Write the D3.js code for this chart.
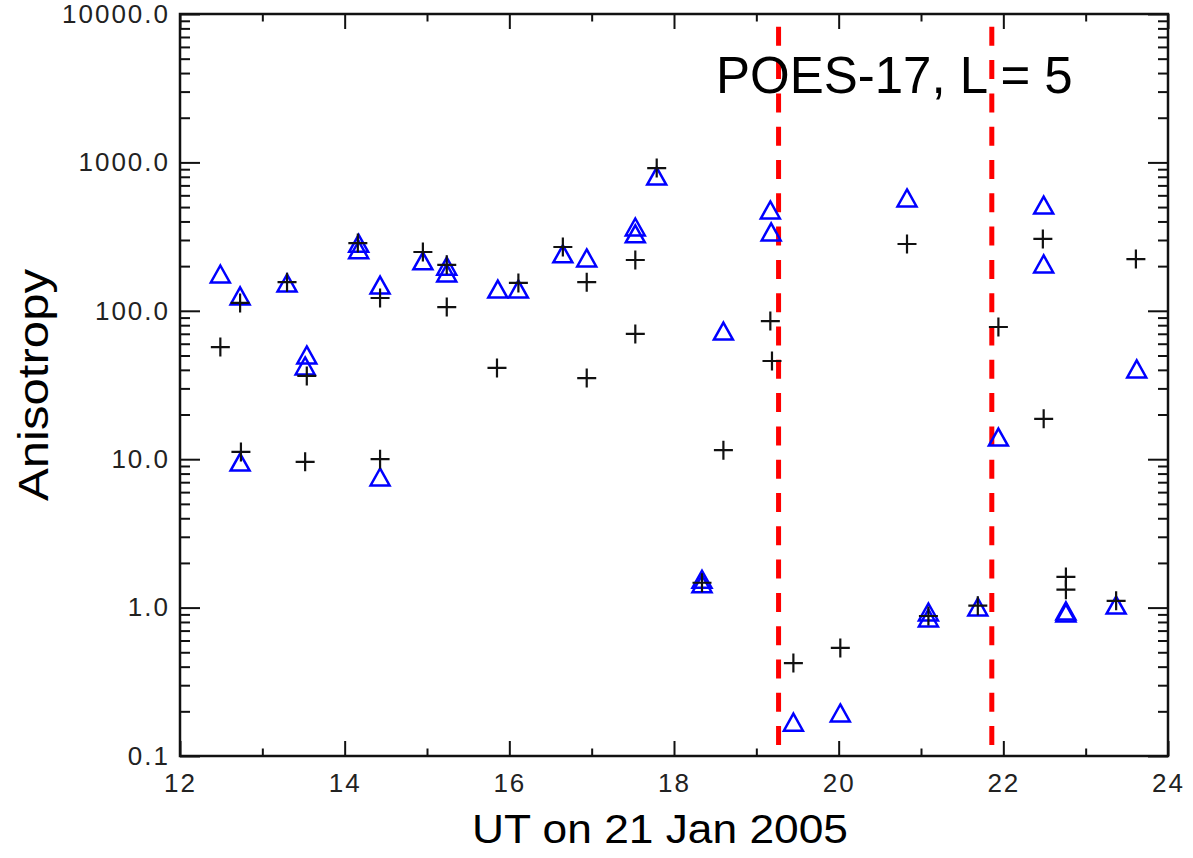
<!DOCTYPE html>
<html>
<head>
<meta charset="utf-8">
<script src="https://cdn.jsdelivr.net/npm/d3@7"></script>
<style>
  body { margin: 0; background: #fff; }
  text { font-family: "Liberation Sans", Arial, sans-serif; }
</style>
</head>
<body>
<div id="chart"></div>
<script>
// blue triangles: [UT hour, anisotropy]
var triangles = [
  [12.49, 177], [12.73, 126], [13.30, 154], [14.17, 285], [14.17, 258],
  [14.43, 149], [14.95, 217], [15.24, 200], [15.24, 180], [15.86, 140],
  [16.11, 140], [16.65, 242], [16.94, 227], [17.53, 367], [17.53, 330],
  [17.79, 809], [19.17, 478], [19.18, 340], [18.60, 73], [20.83, 576],
  [23.62, 40.6], [22.49, 516], [22.49, 207], [12.73, 9.57], [14.43, 7.59],
  [13.54, 50.4], [13.52, 42.5], [21.94, 14.1], [18.34, 1.55], [18.34, 1.45],
  [19.45, 0.169], [20.02, 0.195], [21.09, 0.934], [21.09, 0.851], [21.69, 1.01],
  [22.76, 0.95], [22.76, 0.92], [23.37, 1.04]
];

// black crosses: [UT hour, anisotropy]
var crosses = [
  [12.49, 57], [12.73, 113], [12.74, 11.2], [13.30, 156], [13.54, 36.4],
  [13.52, 9.6], [14.16, 286], [14.43, 122], [14.43, 10.0], [14.95, 249],
  [15.24, 204], [15.24, 106], [15.85, 41.2], [16.11, 154], [16.65, 269],
  [16.94, 156], [16.94, 35.2], [17.53, 220], [17.53, 69.8], [17.79, 916],
  [18.60, 11.5], [19.17, 85.3], [19.19, 45.9], [20.83, 282], [21.94, 77.8],
  [22.48, 305], [22.49, 18.7], [23.61, 223], [18.34, 1.47], [19.45, 0.423],
  [20.02, 0.535], [21.09, 0.878], [21.69, 1.03], [22.76, 1.61], [22.76, 1.32],
  [23.37, 1.11]
];

// event markers (UT hour)
var eventTimes = [19.27, 21.86];

var xMajor = [12, 14, 16, 18, 20, 22, 24];
var xMinor = [13, 15, 17, 19, 21, 23];
var yMajor = [0.1, 1, 10, 100, 1000, 10000];
var yMinor = [];
yMajor.slice(0, -1).forEach(function(d) {
  for (var k = 2; k <= 9; k++) yMinor.push(d * k);
});

var totalW = 1193, totalH = 858;
var margin = {top: 14, right: 25, bottom: 102, left: 180},
    width = totalW - margin.left - margin.right,
    height = totalH - margin.top - margin.bottom;

var svg = d3.select("#chart")
  .append("svg")
    .attr("width", totalW)
    .attr("height", totalH)
  .append("g")
    .attr("transform", "translate(" + margin.left + "," + margin.top + ")");

var x = d3.scaleLinear().domain([12, 24]).range([0, width]);
var y = d3.scaleLog().domain([0.1, 10000]).range([height, 0]);

function styleAxis(g) {
  g.select(".domain").remove();
  g.selectAll(".tick line").attr("stroke", "#111").attr("stroke-width", 2);
  g.selectAll("text")
    .attr("fill", "#222")
    .style("font-size", "26px")
    .style("letter-spacing", "2px");
}

// bottom axis, major + minor (ticks point inward)
svg.append("g")
  .attr("transform", "translate(0," + height + ")")
  .call(d3.axisBottom(x).tickValues(xMajor).tickFormat(d3.format("d"))
    .tickSize(-15).tickPadding(18))
  .call(styleAxis);
svg.append("g")
  .attr("transform", "translate(0," + height + ")")
  .call(d3.axisBottom(x).tickValues(xMinor).tickFormat("").tickSize(-7.5))
  .call(styleAxis);

// top axis
svg.append("g")
  .call(d3.axisBottom(x).tickValues(xMajor).tickFormat("").tickSize(15))
  .call(styleAxis);
svg.append("g")
  .call(d3.axisBottom(x).tickValues(xMinor).tickFormat("").tickSize(7.5))
  .call(styleAxis);

// left axis
svg.append("g")
  .call(d3.axisLeft(y).tickValues(yMajor).tickFormat(d3.format(".1f"))
    .tickSize(-20).tickPadding(10))
  .call(styleAxis);
svg.append("g")
  .call(d3.axisLeft(y).tickValues(yMinor).tickFormat("").tickSize(-10))
  .call(styleAxis);

// right axis
svg.append("g")
  .attr("transform", "translate(" + width + ",0)")
  .call(d3.axisRight(y).tickValues(yMajor).tickFormat("").tickSize(-20))
  .call(styleAxis);
svg.append("g")
  .attr("transform", "translate(" + width + ",0)")
  .call(d3.axisRight(y).tickValues(yMinor).tickFormat("").tickSize(-10))
  .call(styleAxis);

// frame
svg.append("rect")
  .attr("width", width)
  .attr("height", height)
  .attr("fill", "none")
  .attr("stroke", "#111")
  .attr("stroke-width", 2.5);

// red dashed event lines
svg.selectAll(".event")
  .data(eventTimes)
  .enter()
  .append("line")
    .attr("class", "event")
    .attr("x1", function(d) { return x(d); })
    .attr("x2", function(d) { return x(d); })
    .attr("y1", 0)
    .attr("y2", height)
    .attr("stroke", "#ff0000")
    .attr("stroke-width", 5)
    .attr("stroke-dasharray", "19,14.3")
    .attr("stroke-dashoffset", 20.5);

// triangles
svg.selectAll(".tri")
  .data(triangles)
  .enter()
  .append("path")
    .attr("class", "tri")
    .attr("d", "M0,-8.5L9.5,8.5L-9.5,8.5Z")
    .attr("transform", function(d) { return "translate(" + x(d[0]) + "," + y(d[1]) + ")"; })
    .attr("fill", "none")
    .attr("stroke", "#0000ff")
    .attr("stroke-width", 2.5);

// crosses
svg.selectAll(".cross")
  .data(crosses)
  .enter()
  .append("path")
    .attr("class", "cross")
    .attr("d", "M-9.5,0H9.5M0,-9.5V9.5")
    .attr("transform", function(d) { return "translate(" + x(d[0]) + "," + y(d[1]) + ")"; })
    .attr("fill", "none")
    .attr("stroke", "#111")
    .attr("stroke-width", 2.2);

// labels
svg.append("text")
  .attr("x", 716 - margin.left)
  .attr("y", 93 - margin.top)
  .style("font-size", "51px")
  .attr("fill", "#000")
  .text("POES-17, L = 5");

svg.append("text")
  .attr("x", 660 - margin.left)
  .attr("y", 843 - margin.top)
  .attr("text-anchor", "middle")
  .attr("textLength", 376)
  .attr("lengthAdjust", "spacingAndGlyphs")
  .style("font-size", "40px")
  .attr("fill", "#000")
  .text("UT on 21 Jan 2005");

svg.append("text")
  .attr("transform", "translate(" + (48 - margin.left) + "," + (385 - margin.top) + ") rotate(-90)")
  .attr("text-anchor", "middle")
  .attr("textLength", 232)
  .attr("lengthAdjust", "spacingAndGlyphs")
  .style("font-size", "42px")
  .attr("fill", "#000")
  .text("Anisotropy");
</script>
</body>
</html>
